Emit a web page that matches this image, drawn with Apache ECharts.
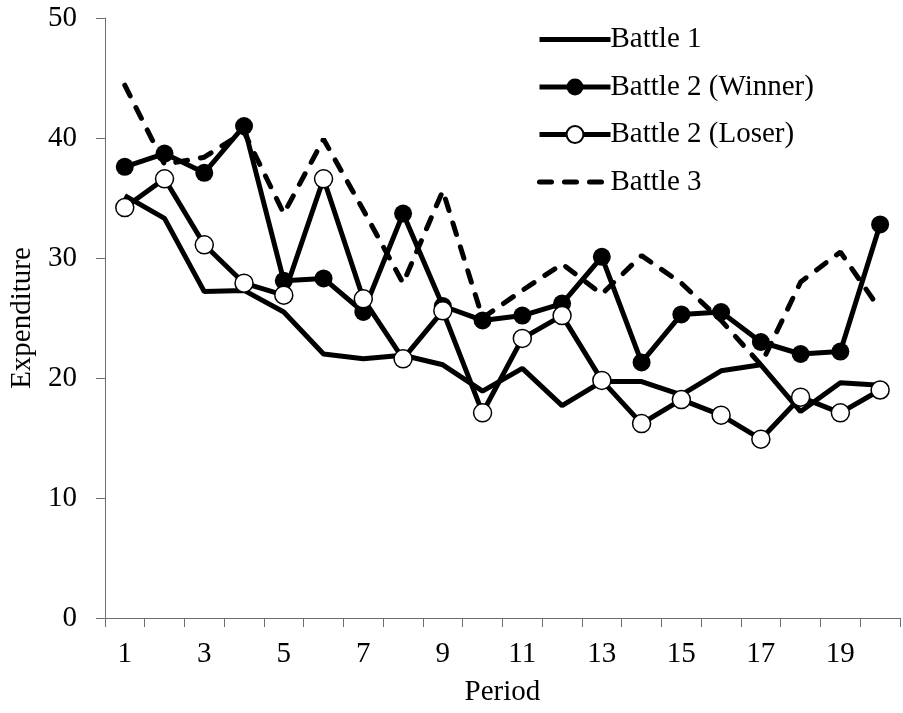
<!DOCTYPE html>
<html>
<head>
<meta charset="utf-8">
<script src="https://cdn.jsdelivr.net/npm/echarts@6/dist/echarts.min.js"></script>
<style>
html,body{margin:0;padding:0;background:#fff;}
#chart{width:903px;height:713px;}
</style>
</head>
<body>
<div id="chart"></div>
<script>
const periods = ['1','2','3','4','5','6','7','8','9','10','11','12','13','14','15','16','17','18','19','20'];
const battle1 = [35.2, 33.3, 27.2, 27.3, 25.5, 22.0, 21.6, 21.9, 21.1, 18.9, 20.8, 17.7, 19.7, 19.7, 18.6, 20.6, 21.1, 17.2, 19.6, 19.4];
const battle2Winner = [37.6, 38.7, 37.1, 41.0, 28.1, 28.3, 25.5, 33.7, 26.0, 24.8, 25.2, 26.2, 30.1, 21.3, 25.3, 25.5, 23.0, 22.0, 22.2, 32.8];
const battle2Loser = [34.2, 36.6, 31.1, 27.9, 26.9, 36.6, 26.6, 21.6, 25.6, 17.1, 23.3, 25.2, 19.8, 16.2, 18.2, 16.9, 14.9, 18.4, 17.1, 19.0];
const battle3 = [44.4, 37.8, 38.4, 40.5, 33.7, 39.9, 34.0, 27.9, 35.6, 25.0, 27.3, 29.5, 27.0, 30.2, 27.9, 24.8, 21.1, 28.0, 30.5, 25.7];
const seriesNames = ['Battle 1', 'Battle 2 (Winner)', 'Battle 2 (Loser)', 'Battle 3'];
const yTicks = {min: 0, max: 50, interval: 10};

const FONT = '"Liberation Serif", "Times New Roman", serif';
const axisColor = '#6e6e6e';

const chart = echarts.init(document.getElementById('chart'), null, {renderer: 'canvas'});
chart.setOption({
  animation: false,
  backgroundColor: '#fff',
  textStyle: {fontFamily: FONT, color: '#000'},
  grid: {left: 97, right: 3, top: 18, bottom: 95, containLabel: false},
  legend: {
    orient: 'vertical',
    left: 532,
    top: 19.5,
    itemWidth: 71,
    itemHeight: 21,
    itemGap: 17.5,
    lineStyle: {width: 5},
    data: [
      {name: seriesNames[0], itemStyle: {opacity: 0}},
      {name: seriesNames[1]},
      {name: seriesNames[2]},
      {name: seriesNames[3], itemStyle: {opacity: 0}}
    ],
    textStyle: {fontFamily: FONT, fontSize: 29, lineHeight: 30, color: '#000', padding: [0, 0, 0, -5]}
  },
  xAxis: {
    type: 'category',
    data: periods,
    boundaryGap: true,
    name: 'Period',
    nameLocation: 'middle',
    nameGap: 60,
    nameTextStyle: {fontFamily: FONT, fontSize: 29, color: '#000'},
    axisLine: {show: true, lineStyle: {color: axisColor, width: 1}},
    axisTick: {show: true, interval: 0, length: 9, inside: false, lineStyle: {color: axisColor}},
    axisLabel: {interval: 1, margin: 22, fontFamily: FONT, fontSize: 29, color: '#000'},
    splitLine: {show: false}
  },
  yAxis: {
    type: 'value',
    min: yTicks.min,
    max: yTicks.max,
    interval: yTicks.interval,
    name: 'Expenditure',
    nameLocation: 'middle',
    nameGap: 66,
    nameRotate: 90,
    nameTextStyle: {fontFamily: FONT, fontSize: 29, color: '#000'},
    axisLine: {show: true, lineStyle: {color: axisColor, width: 1}},
    axisTick: {show: true, length: 9, inside: false, lineStyle: {color: axisColor}},
    axisLabel: {margin: 28, fontFamily: FONT, fontSize: 29, color: '#000'},
    splitLine: {show: false}
  },
  series: [
    {
      name: seriesNames[0], type: 'line', data: battle1, z: 2,
      symbol: 'none', lineStyle: {color: '#000', width: 5}, itemStyle: {color: '#000'}
    },
    {
      name: seriesNames[1], type: 'line', data: battle2Winner, z: 3,
      symbol: 'circle', symbolSize: 18, showAllSymbol: true,
      lineStyle: {color: '#000', width: 5}, itemStyle: {color: '#000'}
    },
    {
      name: seriesNames[2], type: 'line', data: battle2Loser, z: 4,
      symbol: 'circle', symbolSize: 18, showAllSymbol: true,
      lineStyle: {color: '#000', width: 5},
      itemStyle: {color: '#fff', borderColor: '#000', borderWidth: 1.5}
    },
    {
      name: seriesNames[3], type: 'line', data: battle3, z: 1,
      symbol: 'none',
      lineStyle: {color: '#000', width: 5, type: [12, 13], cap: 'round'},
      itemStyle: {color: '#000'}
    }
  ]
});
</script>
</body>
</html>
